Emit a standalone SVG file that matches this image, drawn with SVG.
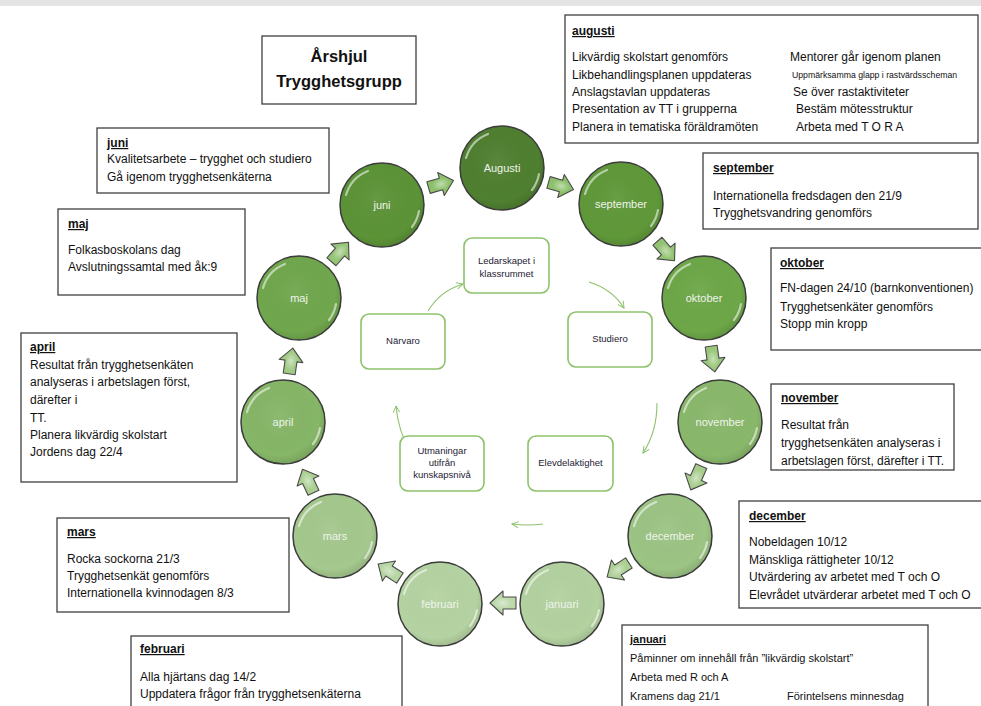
<svg xmlns="http://www.w3.org/2000/svg" xmlns:xlink="http://www.w3.org/1999/xlink" width="981" height="706" viewBox="0 0 981 706">
<style>
  text { font-family: "Liberation Sans", Arial, sans-serif; }
  .box { fill: #fff; stroke: #3f3f3f; stroke-width: 1.3; }
  .t { font-size: 12px; fill: #111; }
  .h { font-size: 12px; font-weight: bold; fill: #111; text-decoration: underline; }
  .title { font-size: 16.5px; font-weight: bold; fill: #111; text-anchor: middle; }
  .circ { stroke: #3c3c3c; stroke-width: 1.5; }
  .clab { font-size: 11px; fill: #eef4ea; text-anchor: middle; }
  .ibox { fill: #fff; stroke: #8dc26b; stroke-width: 1.6; }
  .itxt { font-size: 9.5px; fill: #1e2233; text-anchor: middle; }
  .barrow { stroke: #4a4a4a; stroke-width: 1.1; stroke-linejoin: round; }
  .iarrow { fill: none; stroke: #8dc26b; stroke-width: 1.1; marker-end: url(#chev); }
  .gloss { fill: none; stroke: #ffffff; stroke-opacity: 0.55; stroke-width: 2.2; stroke-linecap: round; }
</style>
<defs>
  <radialGradient id="shade" cx="0.45" cy="0.42" r="0.6">
    <stop offset="0" stop-color="#ffffff" stop-opacity="0.06"/>
    <stop offset="0.8" stop-color="#000000" stop-opacity="0"/>
    <stop offset="1" stop-color="#000000" stop-opacity="0.12"/>
  </radialGradient>
  <radialGradient id="ahl" cx="0.5" cy="0.5" r="0.5">
    <stop offset="0" stop-color="#ffffff" stop-opacity="0.45"/>
    <stop offset="1" stop-color="#ffffff" stop-opacity="0"/>
  </radialGradient>
  <g id="gl">
    <path class="gloss" d="M -36,-10 A 37 37 0 0 1 -14,-34"/>
    <path class="gloss" d="M 37,6 A 37 37 0 0 1 30,22" stroke-opacity="0.35"/>
  </g>
  <path id="ba" d="M -13,-6 H 0 V -12 L 13,0 L 0,12 V 6 H -13 Z"/>
  <ellipse id="bah" cx="0" cy="0" rx="9" ry="6" fill="url(#ahl)"/>
  <marker id="chev" viewBox="0 0 10 10" refX="9" refY="5" markerWidth="8" markerHeight="8" orient="auto" markerUnits="userSpaceOnUse">
    <path d="M 1,1 L 9,5 L 1,9" fill="none" stroke="#8dc26b" stroke-width="1.2"/>
  </marker>
</defs>

<rect x="0" y="0" width="981" height="6" fill="#e4e4e4"/>

<g id="title">
  <rect class="box" x="262" y="36" width="154" height="68"/>
  <text class="title" x="339" y="62">Årshjul</text>
  <text class="title" x="339" y="87">Trygghetsgrupp</text>
</g>

<!-- connectors -->
<g id="connectors">
  <g transform="translate(441,184) rotate(-16)"><use xlink:href="#ba" class="barrow" fill="#8cc06b"/><use xlink:href="#bah"/></g>
  <g transform="translate(561,186) rotate(16)"><use xlink:href="#ba" class="barrow" fill="#8cc06b"/><use xlink:href="#bah"/></g>
  <g transform="translate(666,251) rotate(49)"><use xlink:href="#ba" class="barrow" fill="#92c372"/><use xlink:href="#bah"/></g>
  <g transform="translate(713,359) rotate(82)"><use xlink:href="#ba" class="barrow" fill="#9ac77b"/><use xlink:href="#bah"/></g>
  <g transform="translate(696,478) rotate(114)"><use xlink:href="#ba" class="barrow" fill="#a7cd8d"/><use xlink:href="#bah"/></g>
  <g transform="translate(618,570) rotate(147)"><use xlink:href="#ba" class="barrow" fill="#adcf94"/><use xlink:href="#bah"/></g>
  <g transform="translate(503,603) rotate(180)"><use xlink:href="#ba" class="barrow" fill="#bcd9aa"/><use xlink:href="#bah"/></g>
  <g transform="translate(389,571) rotate(213)"><use xlink:href="#ba" class="barrow" fill="#b6d5a2"/><use xlink:href="#bah"/></g>
  <g transform="translate(308,481) rotate(245)"><use xlink:href="#ba" class="barrow" fill="#abcf92"/><use xlink:href="#bah"/></g>
  <g transform="translate(291,361) rotate(278)"><use xlink:href="#ba" class="barrow" fill="#a2ca87"/><use xlink:href="#bah"/></g>
  <g transform="translate(340,252) rotate(311)"><use xlink:href="#ba" class="barrow" fill="#96c477"/><use xlink:href="#bah"/></g>

  <path class="iarrow" d="M 428,311 Q 440,291 463,284"/>
  <path class="iarrow" d="M 589,282 Q 612,289 624,308"/>
  <path class="iarrow" d="M 657,403 Q 657,432 643,453"/>
  <path class="iarrow" d="M 543,524 Q 528,526 512,524"/>
  <path class="iarrow" d="M 411,453 Q 398,431 396,406"/>
</g>

<!-- month circles -->
<g id="c-augusti"><circle class="circ" cx="502" cy="168" r="42" fill="#4f7f30"/><circle cx="502" cy="168" r="42" fill="url(#shade)"/><use xlink:href="#gl" transform="translate(502,168)"/><text class="clab" x="502" y="172">Augusti</text></g>
<g id="c-september"><circle class="circ" cx="621" cy="204" r="42" fill="#5f9839"/><circle cx="621" cy="204" r="42" fill="url(#shade)"/><use xlink:href="#gl" transform="translate(621,204)"/><text class="clab" x="621" y="208">september</text></g>
<g id="c-oktober"><circle class="circ" cx="704" cy="298" r="42" fill="#6da748"/><circle cx="704" cy="298" r="42" fill="url(#shade)"/><use xlink:href="#gl" transform="translate(704,298)"/><text class="clab" x="704" y="302">oktober</text></g>
<g id="c-november"><circle class="circ" cx="720" cy="422" r="42" fill="#89b86b"/><circle cx="720" cy="422" r="42" fill="url(#shade)"/><use xlink:href="#gl" transform="translate(720,422)"/><text class="clab" x="720" y="426">november</text></g>
<g id="c-december"><circle class="circ" cx="670" cy="536" r="42" fill="#9cc484"/><circle cx="670" cy="536" r="42" fill="url(#shade)"/><use xlink:href="#gl" transform="translate(670,536)"/><text class="clab" x="670" y="540">december</text></g>
<g id="c-januari"><circle class="circ" cx="562" cy="604" r="42" fill="#b3d2a0"/><circle cx="562" cy="604" r="42" fill="url(#shade)"/><use xlink:href="#gl" transform="translate(562,604)"/><text class="clab" x="562" y="608">januari</text></g>
<g id="c-februari"><circle class="circ" cx="440" cy="604" r="42" fill="#b5d3a2"/><circle cx="440" cy="604" r="42" fill="url(#shade)"/><use xlink:href="#gl" transform="translate(440,604)"/><text class="clab" x="440" y="608">februari</text></g>
<g id="c-mars"><circle class="circ" cx="335" cy="536" r="42" fill="#a4c88d"/><circle cx="335" cy="536" r="42" fill="url(#shade)"/><use xlink:href="#gl" transform="translate(335,536)"/><text class="clab" x="335" y="540">mars</text></g>
<g id="c-april"><circle class="circ" cx="283" cy="422" r="42" fill="#86b667"/><circle cx="283" cy="422" r="42" fill="url(#shade)"/><use xlink:href="#gl" transform="translate(283,422)"/><text class="clab" x="283" y="426">april</text></g>
<g id="c-maj"><circle class="circ" cx="299" cy="298" r="42" fill="#70a74d"/><circle cx="299" cy="298" r="42" fill="url(#shade)"/><use xlink:href="#gl" transform="translate(299,298)"/><text class="clab" x="299" y="302">maj</text></g>
<g id="c-juni"><circle class="circ" cx="382" cy="205" r="42" fill="#5c9337"/><circle cx="382" cy="205" r="42" fill="url(#shade)"/><use xlink:href="#gl" transform="translate(382,205)"/><text class="clab" x="382" y="209">juni</text></g>

<!-- inner cycle -->
<g id="i-ledarskap"><rect class="ibox" x="464" y="238" width="85" height="55" rx="8"/><text class="itxt" x="506.5" y="264">Ledarskapet i</text><text class="itxt" x="506.5" y="277">klassrummet</text></g>
<g id="i-studiero"><rect class="ibox" x="568" y="312" width="84" height="55" rx="8"/><text class="itxt" x="610" y="342">Studiero</text></g>
<g id="i-elevdel"><rect class="ibox" x="528" y="436" width="85" height="55" rx="8"/><text class="itxt" x="570.5" y="466">Elevdelaktighet</text></g>
<g id="i-utmaningar"><rect class="ibox" x="400" y="436" width="84" height="55" rx="8"/><text class="itxt" x="442" y="454">Utmaningar</text><text class="itxt" x="442" y="466">utifrån</text><text class="itxt" x="442" y="478">kunskapsnivå</text></g>
<g id="i-narvaro"><rect class="ibox" x="361" y="314" width="84" height="55" rx="8"/><text class="itxt" x="403" y="344">Närvaro</text></g>

<!-- text boxes -->
<g id="b-augusti">
  <rect class="box" x="565" y="15" width="413" height="128"/>
  <text class="h" x="572" y="35">augusti</text>
  <text class="t" x="572" y="61">Likvärdig skolstart genomförs</text>
  <text class="t" x="572" y="79">Likbehandlingsplanen uppdateras</text>
  <text class="t" x="572" y="96">Anslagstavlan uppdateras</text>
  <text class="t" x="572" y="113">Presentation av TT i grupperna</text>
  <text class="t" x="572" y="131">Planera in tematiska föräldramöten</text>
  <text class="t" x="790" y="61">Mentorer går igenom planen</text>
  <text class="t" x="792" y="78" style="font-size:8.7px">Uppmärksamma glapp i rastvärdsscheman</text>
  <text class="t" x="793" y="96">Se över rastaktiviteter</text>
  <text class="t" x="796" y="113">Bestäm mötesstruktur</text>
  <text class="t" x="796" y="131">Arbeta med T O R A</text>
</g>
<g id="b-september">
  <rect class="box" x="703" y="153" width="275" height="76"/>
  <text class="h" x="713" y="172">september</text>
  <text class="t" x="713" y="200">Internationella fredsdagen den 21/9</text>
  <text class="t" x="713" y="217">Trygghetsvandring genomförs</text>
</g>
<g id="b-oktober">
  <rect class="box" x="771" y="248" width="215" height="102"/>
  <text class="h" x="780" y="267">oktober</text>
  <text class="t" x="780" y="292">FN-dagen 24/10 (barnkonventionen)</text>
  <text class="t" x="780" y="311">Trygghetsenkäter genomförs</text>
  <text class="t" x="780" y="328">Stopp min kropp</text>
</g>
<g id="b-november">
  <rect class="box" x="771" y="384" width="183" height="86"/>
  <text class="h" x="781" y="402">november</text>
  <text class="t" x="781" y="429">Resultat från</text>
  <text class="t" x="781" y="447">trygghetsenkäten analyseras i</text>
  <text class="t" x="781" y="465">arbetslagen först, därefter i TT.</text>
</g>
<g id="b-december">
  <rect class="box" x="739" y="501" width="250" height="107"/>
  <text class="h" x="749" y="520">december</text>
  <text class="t" x="749" y="546">Nobeldagen 10/12</text>
  <text class="t" x="749" y="564">Mänskliga rättigheter 10/12</text>
  <text class="t" x="749" y="581">Utvärdering av arbetet med T och O</text>
  <text class="t" x="749" y="599">Elevrådet utvärderar arbetet med T och O</text>
</g>
<g id="b-januari">
  <rect class="box" x="622" y="625" width="306" height="95"/>
  <text class="h" x="630" y="643" style="font-size:11px">januari</text>
  <text class="t" x="630" y="662" style="font-size:11px">Påminner om innehåll från ”likvärdig skolstart”</text>
  <text class="t" x="630" y="681" style="font-size:11px">Arbeta med R och A</text>
  <text class="t" x="630" y="700" style="font-size:11px">Kramens dag 21/1</text>
  <text class="t" x="787" y="700" style="font-size:11px">Förintelsens minnesdag</text>
</g>
<g id="b-februari">
  <rect class="box" x="131" y="636" width="271" height="85"/>
  <text class="h" x="140" y="653">februari</text>
  <text class="t" x="140" y="681">Alla hjärtans dag 14/2</text>
  <text class="t" x="140" y="698">Uppdatera frågor från trygghetsenkäterna</text>
</g>
<g id="b-mars">
  <rect class="box" x="57" y="518" width="232" height="94"/>
  <text class="h" x="67" y="536">mars</text>
  <text class="t" x="67" y="563">Rocka sockorna 21/3</text>
  <text class="t" x="67" y="580">Trygghetsenkät genomförs</text>
  <text class="t" x="67" y="597">Internationella kvinnodagen 8/3</text>
</g>
<g id="b-april">
  <rect class="box" x="21" y="333" width="216" height="149"/>
  <text class="h" x="30" y="351">april</text>
  <text class="t" x="30" y="369">Resultat från trygghetsenkäten</text>
  <text class="t" x="30" y="386">analyseras i arbetslagen först,</text>
  <text class="t" x="30" y="404">därefter i</text>
  <text class="t" x="30" y="422">TT.</text>
  <text class="t" x="30" y="439">Planera likvärdig skolstart</text>
  <text class="t" x="30" y="456">Jordens dag 22/4</text>
</g>
<g id="b-maj">
  <rect class="box" x="58" y="209" width="187" height="86"/>
  <text class="h" x="68" y="228">maj</text>
  <text class="t" x="68" y="254">Folkasboskolans dag</text>
  <text class="t" x="68" y="271">Avslutningssamtal med åk:9</text>
</g>
<g id="b-juni">
  <rect class="box" x="97" y="128" width="232" height="65"/>
  <text class="h" x="107" y="147">juni</text>
  <text class="t" x="107" y="163">Kvalitetsarbete – trygghet och studiero</text>
  <text class="t" x="107" y="181">Gå igenom trygghetsenkäterna</text>
</g>
</svg>
